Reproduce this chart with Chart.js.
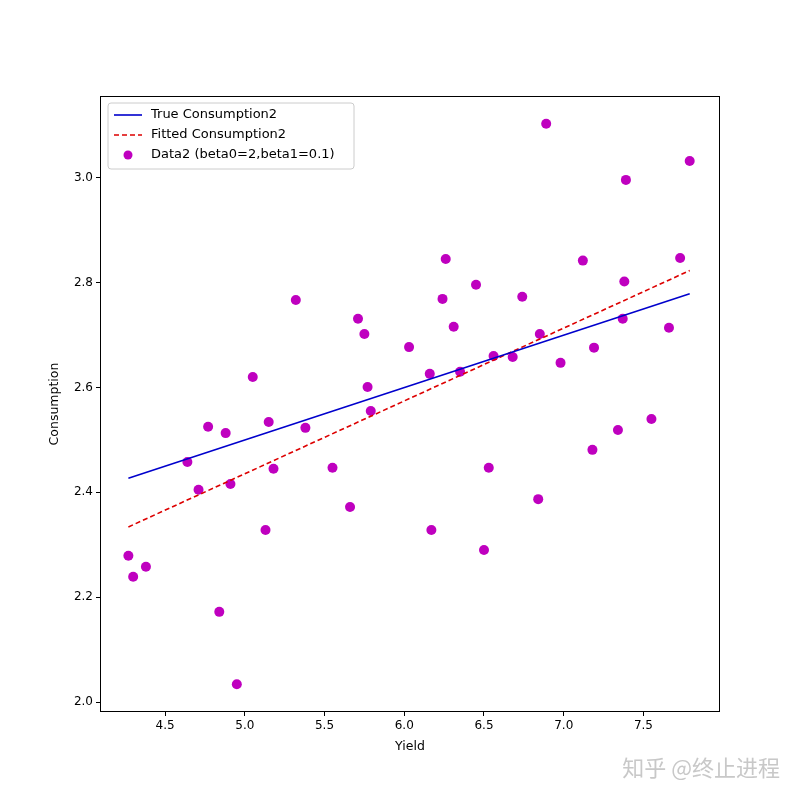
<!DOCTYPE html>
<html>
<head>
<meta charset="utf-8">
<script src="https://cdn.jsdelivr.net/npm/chart.js@4"></script>
<style>
body { margin: 0; background: #fff; }
#wrap { width: 800px; height: 800px; position: relative; }
#mark { position: absolute; right: 20px; bottom: 18px; font: 22px "Noto Sans CJK SC"; color: #c8c8c8; }
</style>
</head>
<body>
<div id="wrap"><canvas id="chart" width="800" height="800"></canvas><div id="mark">知乎 @终止进程</div></div>
<script>
// scatter data
const yieldX = [4.27, 4.30, 4.38, 4.64, 4.71, 4.77, 4.84, 4.88, 4.91, 4.95, 5.05, 5.13, 5.15, 5.18, 5.32, 5.38, 5.55, 5.66, 5.71, 5.75,
    5.77, 5.79, 6.03, 6.16, 6.17, 6.24, 6.26, 6.31, 6.35, 6.45, 6.50, 6.53, 6.56, 6.68, 6.74, 6.84, 6.85, 6.89, 6.98, 7.12,
    7.18, 7.19, 7.34, 7.37, 7.38, 7.39, 7.55, 7.66, 7.73, 7.79];
const consY = [2.279, 2.239, 2.258, 2.458, 2.405, 2.525, 2.172, 2.513, 2.416, 2.034, 2.620, 2.328, 2.534, 2.445, 2.767, 2.523, 2.447, 2.372, 2.731, 2.702,
    2.601, 2.555, 2.677, 2.626, 2.328, 2.769, 2.845, 2.716, 2.630, 2.796, 2.290, 2.447, 2.660, 2.658, 2.773, 2.387, 2.702, 3.103, 2.647, 2.842,
    2.481, 2.676, 2.519, 2.731, 2.802, 2.996, 2.540, 2.714, 2.847, 3.032];
// line endpoints
const lineX = [4.27, 7.79];
const trueY = [2.427, 2.779];
const fitY = [2.334, 2.823];
const xTicks = [4.5, 5.0, 5.5, 6.0, 6.5, 7.0, 7.5];
const yTicks = [2.0, 2.2, 2.4, 2.6, 2.8, 3.0];

const pts = (xs, ys) => xs.map((x, i) => ({ x: x, y: ys[i] }));
const font = { family: 'DejaVu Sans', size: 12 };

// frame, axis titles and a legend inside the plot
const extras = {
    id: 'extras',
    afterDraw(chart) {
        const ctx = chart.ctx, a = chart.chartArea;
        ctx.save();
        ctx.strokeStyle = '#000'; ctx.lineWidth = 1;
        ctx.strokeRect(Math.round(a.left) + 0.5, Math.round(a.top) + 0.5,
            Math.round(a.right - a.left) - 1, Math.round(a.bottom - a.top) - 1);

        ctx.fillStyle = '#000';
        ctx.font = '12.5px "DejaVu Sans"';
        ctx.textAlign = 'center'; ctx.textBaseline = 'middle';
        ctx.fillText('Yield', (a.left + a.right) / 2, 747);
        ctx.translate(55, (a.top + a.bottom) / 2);
        ctx.rotate(-Math.PI / 2);
        ctx.fillText('Consumption', 0, 0);
        ctx.restore();

        ctx.save();
        const x0 = a.left + 8, y0 = a.top + 7;
        ctx.fillStyle = 'rgba(255,255,255,0.8)';
        ctx.strokeStyle = '#ccc';
        ctx.lineWidth = 1;
        ctx.beginPath();
        ctx.roundRect(x0, y0, 246, 66, 3);
        ctx.fill(); ctx.stroke();
        ctx.font = '13px "DejaVu Sans"';
        ctx.textBaseline = 'middle';
        const rows = [['True Consumption2', 'line', '#0000cc', []],
            ['Fitted Consumption2', 'line', '#dd0000', [5, 3]],
            ['Data2 (beta0=2,beta1=0.1)', 'dot', '#bf00bf']];
        rows.forEach((r, i) => {
            const cy = y0 + 12 + i * 20;
            if (r[1] === 'line') {
                ctx.strokeStyle = r[2]; ctx.lineWidth = 1.6; ctx.setLineDash(r[3]);
                ctx.beginPath(); ctx.moveTo(x0 + 6, cy); ctx.lineTo(x0 + 34, cy); ctx.stroke();
                ctx.setLineDash([]);
            } else {
                ctx.fillStyle = r[2];
                ctx.beginPath(); ctx.arc(x0 + 20, cy, 4.5, 0, Math.PI * 2); ctx.fill();
            }
            ctx.fillStyle = '#000';
            ctx.fillText(r[0], x0 + 43, cy);
        });
        ctx.restore();
    }
};

const tickGrid = { drawOnChartArea: false, drawTicks: true, tickLength: 4, color: '#000', tickColor: '#000' };

new Chart(document.getElementById('chart'), {
    type: 'scatter',
    data: {
        datasets: [
            { type: 'line', data: pts(lineX, trueY), borderColor: '#0000cc', borderWidth: 1.6, pointRadius: 0 },
            { type: 'line', data: pts(lineX, fitY), borderColor: '#dd0000', borderWidth: 1.6, borderDash: [5, 3], pointRadius: 0 },
            { data: pts(yieldX, consY), backgroundColor: '#bf00bf', borderWidth: 0, pointRadius: 5 }
        ]
    },
    plugins: [extras],
    options: {
        responsive: false,
        animation: false,
        layout: { padding: { left: 0, top: 96, right: 80, bottom: 0 } },
        plugins: { legend: { display: false }, tooltip: { enabled: false } },
        scales: {
            x: {
                type: 'linear', min: 4.092, max: 7.98,
                afterFit: s => { s.height = 88; },
                afterBuildTicks: s => { s.ticks = xTicks.map(v => ({ value: v })); },
                grid: tickGrid,
                border: { display: false },
                ticks: { color: '#000', font: font, padding: 3, callback: v => v.toFixed(1) }
            },
            y: {
                type: 'linear', min: 1.981, max: 3.156,
                afterFit: s => { s.width = 100; },
                afterBuildTicks: s => { s.ticks = yTicks.map(v => ({ value: v })); },
                grid: tickGrid,
                border: { display: false },
                ticks: { color: '#000', font: font, padding: 3, callback: v => v.toFixed(1) }
            }
        }
    }
});
</script>
</body>
</html>
